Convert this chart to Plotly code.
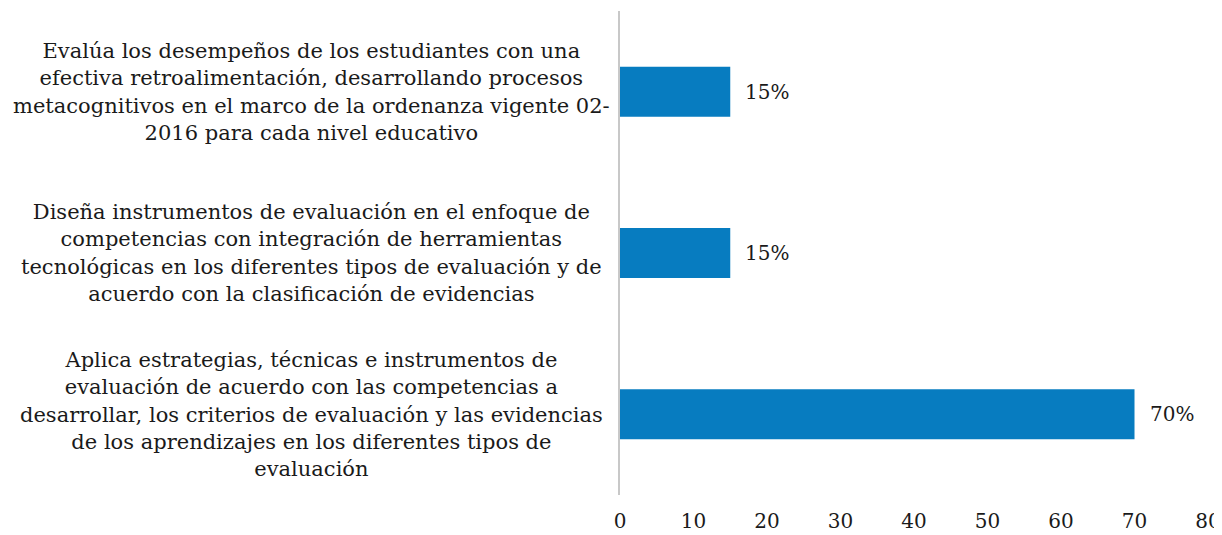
import plotly.graph_objects as go

categories = [
    "Evalúa los desempeños de los estudiantes con una<br>efectiva retroalimentación, desarrollando procesos<br>metacognitivos en el marco de la ordenanza vigente 02-<br>2016 para cada nivel educativo",
    "Diseña instrumentos de evaluación en el enfoque de<br>competencias con integración de herramientas<br>tecnológicas en los diferentes tipos de evaluación y de<br>acuerdo con la clasificación de evidencias",
    "Aplica estrategias, técnicas e instrumentos de<br>evaluación de acuerdo con las competencias a<br>desarrollar, los criterios de evaluación y las evidencias<br>de los aprendizajes en los diferentes tipos de<br>evaluación",
]
values = [15, 15, 70]
x_ticks = [0, 10, 20, 30, 40, 50, 60, 70, 80]

FONT = "Georgia, 'DejaVu Serif', serif"
# page body adds an 8px offset; figure sized to fit the 1222x535 window
W, H = 1214, 527
ML, MR, MT, MB = 612, 14, 3, 40

fig = go.Figure()
fig.add_trace(go.Bar(
    y=list(range(len(categories))),
    x=values,
    orientation="h",
    marker=dict(color="#077cc0", line=dict(width=0)),
    width=0.31,
    hoverinfo="skip",
))

for i, v in enumerate(values):
    fig.add_annotation(x=v, y=i, xref="x", yref="y", text=f"{v}%",
                       showarrow=False, xanchor="left", xshift=13,
                       font=dict(family=FONT, size=20, color="#1a1a1a"))

plot_w = W - ML - MR
label_center_px = 303
for i, c in enumerate(categories):
    fig.add_annotation(x=(label_center_px - ML) / plot_w, y=i, xref="paper", yref="y",
                       text=c, showarrow=False, xanchor="center", align="center",
                       font=dict(family=FONT, size=21, color="#1a1a1a"))

fig.update_layout(
    width=W, height=H,
    margin=dict(l=ML, r=MR, t=MT, b=MB, autoexpand=False),
    paper_bgcolor="white", plot_bgcolor="white",
    showlegend=False,
    font=dict(family=FONT, size=20, color="#1a1a1a"),
    xaxis=dict(range=[0, 80], tickvals=x_ticks, showgrid=False, zeroline=False,
               showline=False, ticks="outside", ticklen=8, tickcolor="rgba(0,0,0,0)",
               automargin=False,
               tickfont=dict(family=FONT, size=20, color="#1a1a1a")),
    yaxis=dict(range=[2.5, -0.5], showticklabels=False, showgrid=False, zeroline=False,
               automargin=False,
               showline=True, linecolor="#c8c8c8", linewidth=2, ticks=""),
)

fig.write_html("out.html")
